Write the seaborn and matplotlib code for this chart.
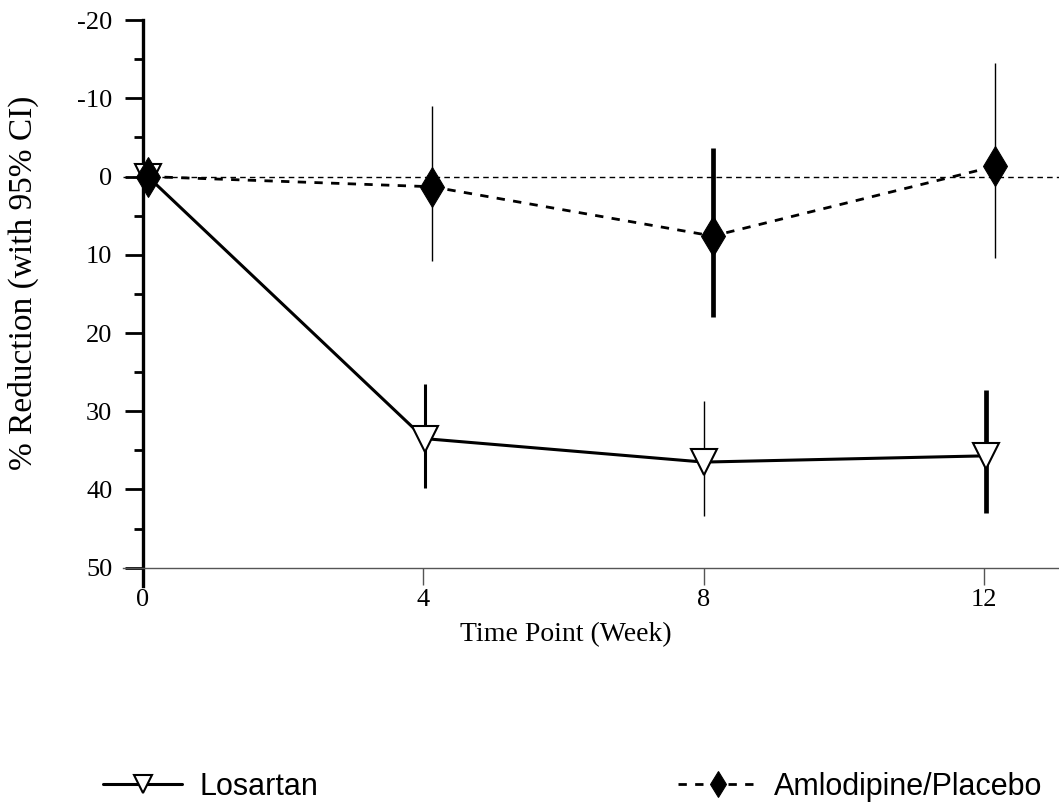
import matplotlib
matplotlib.use("Agg")
import matplotlib.pyplot as plt
import seaborn as sns
import numpy as np

# data (% reduction, y axis inverted)
weeks = [0, 4, 8, 12]
losartan = [0, 33.5, 36.5, 35.7]
losartan_lo = [np.nan, 26.5, 28.7, 27.3]
losartan_hi = [np.nan, 39.8, 43.4, 43.0]
amlodipine = [0, 1.3, 7.6, -1.3]
amlodipine_lo = [np.nan, -9.0, -3.6, -14.5]
amlodipine_hi = [np.nan, 10.8, 17.9, 10.4]
series_names = ["Losartan", "Amlodipine/Placebo"]

# small horizontal shifts and error bar widths as in the original
los_dx = [0.07, 0.02, 0.0, 0.03]
aml_dx = [0.07, 0.12, 0.13, 0.15]
los_ci_lw = [1, 2.2, 1, 3.4]
aml_ci_lw = [1, 1, 3.4, 1]

sns.set_style("ticks")
plt.rcParams["font.family"] = ["Liberation Serif", "DejaVu Serif"]
plt.rcParams["axes.unicode_minus"] = False
for k in ["text.color", "axes.labelcolor", "xtick.labelcolor", "ytick.labelcolor"]:
    plt.rcParams[k] = "black"

fig = plt.figure(figsize=(10.59, 8.05), dpi=100)
ax = fig.add_axes([0.1161, 0.2948, 0.8839, 0.6802])

x_los = np.array(weeks) + np.array(los_dx)
x_aml = np.array(weeks) + np.array(aml_dx)

ax.axhline(0, color="black", lw=1, ls=(0, (4, 3)), zorder=1)

ax.vlines(x_los, losartan_lo, losartan_hi, colors="black", linewidths=los_ci_lw, zorder=2)
ax.vlines(x_aml, amlodipine_lo, amlodipine_hi, colors="black", linewidths=aml_ci_lw, zorder=2)

sns.lineplot(x=x_los, y=losartan, ax=ax, color="black", lw=2.2, marker="v",
             markersize=19, markerfacecolor="white", markeredgecolor="black",
             markeredgewidth=1.5, label=series_names[0], legend=False, zorder=4)
sns.lineplot(x=x_aml, y=amlodipine, ax=ax, color="black", lw=2, dashes=False,
             linestyle=(0, (3, 3)), marker="d", markersize=20,
             markerfacecolor="black", markeredgecolor="black",
             label=series_names[1], legend=False, zorder=5)

ax.set_xlim(-0.285, 13.07)
ax.set_ylim(50, -20)

ax.set_xticks(weeks)
ax.set_xticklabels([str(w) for w in weeks])
ax.set_yticks(np.arange(-20, 51, 10))
ax.set_yticks(np.arange(-15, 50, 10), minor=True)
ax.tick_params(axis="y", which="major", direction="out", length=13, width=2,
               color="black", labelsize=19, pad=9, labelcolor="black")
ax.tick_params(axis="y", which="minor", direction="out", length=6.5, width=2,
               color="black")
ax.tick_params(axis="x", direction="out", length=12, width=1, color="#555555",
               labelsize=19, pad=3, labelcolor="black")

for s in ["top", "right"]:
    ax.spines[s].set_visible(False)
ax.spines["left"].set_position(("data", 0))
ax.spines["left"].set_bounds(-20, 52.3)
ax.spines["left"].set_linewidth(2.4)
ax.spines["left"].set_color("black")
ax.spines["bottom"].set_linewidth(1)
ax.spines["bottom"].set_color("#555555")

ax.set_xlabel("Time Point (Week)", fontsize=20, color="black")
ax.xaxis.set_label_coords(0.473, -0.10)
ax.set_ylabel("% Reduction (with 95% CI)", fontsize=24, color="black")
ax.yaxis.set_label_coords(-0.090, 0.52)

lines = ax.get_lines()
h_los = [l for l in lines if l.get_label() == series_names[0]][0]
h_aml = [l for l in lines if l.get_label() == series_names[1]][0]
leg_kw = dict(frameon=False, handlelength=2.6, handletextpad=0.55,
              borderpad=0, borderaxespad=0, markerscale=0.65,
              prop={"family": "Liberation Sans", "size": 22}, labelcolor="black")
fig.legend(handles=[h_los], labels=[series_names[0]], loc="center left",
           bbox_to_anchor=(103 / 1059, 1 - 787 / 805), **leg_kw)
fig.legend(handles=[h_aml], labels=[series_names[1]], loc="center left",
           bbox_to_anchor=(678 / 1059, 1 - 787 / 805), **leg_kw)

fig.savefig("out.png", dpi=100)
